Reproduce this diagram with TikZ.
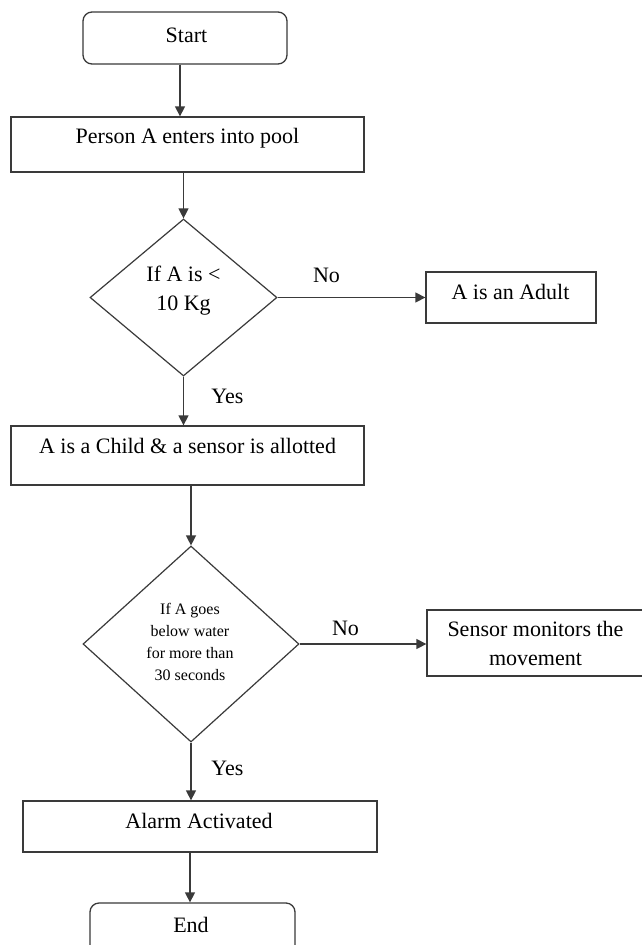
\documentclass[tikz,border=0pt]{standalone}
\usepackage{fontspec}
\setmainfont{Liberation Serif}
\usetikzlibrary{shapes.geometric,arrows.meta}
\definecolor{ln}{HTML}{3A3A3A}
\begin{document}
\begin{tikzpicture}[x=1pt,y=-1pt,
  box/.style={draw=ln,line width=1.3pt,inner sep=0pt},
  dia/.style={draw=ln,line width=1.2pt,shape=diamond,inner sep=0pt},
  txt/.style={inner sep=0pt,font=\fontsize{22}{29}\selectfont,text=black},
  small/.style={inner sep=0pt,font=\fontsize{16}{22}\selectfont,text=black},
  arr/.style={draw=ln,line width=1.3pt,-{Triangle[length=10pt,width=10pt]}},
]
\useasboundingbox (0,0) rectangle (642,945);
\clip (0,0) rectangle (642,945);
\fill[white] (0,0) rectangle (642,945);

% shapes
\node[box,rounded corners=9pt,minimum width=204pt,minimum height=52pt] (start) at (185,38) {};
\node[box,minimum width=353pt,minimum height=55pt] (person) at (187.5,144.5) {};
\node[dia,minimum width=187pt,minimum height=157pt] (d1) at (183.5,297.5) {};
\node[box,minimum width=170pt,minimum height=51pt] (adult) at (511,297.5) {};
\node[box,minimum width=353pt,minimum height=59pt] (child) at (187.5,455.5) {};
\node[dia,minimum width=216pt,minimum height=196pt] (d2) at (191,644) {};
\node[box,minimum width=217pt,minimum height=66pt] (sensor) at (535.5,643) {};
\node[box,minimum width=354pt,minimum height=51pt] (alarm) at (200,826.5) {};
\node[box,rounded corners=9pt,minimum width=205pt,minimum height=54pt] (end) at (192.5,930) {};

% texts
\node[txt,anchor=base] (starttxt) at (186.5,42) {Start};
\node[txt,anchor=base] (persontxt) at (187.5,143) {Person A enters into pool};
\node[txt,anchor=north,align=center] (d1txt) at (183.5,260.7) {\strut If A is <\\10 Kg};
\node[txt,anchor=base] (adulttxt) at (510.5,299) {A is an Adult};
\node[txt,anchor=base] (childtxt) at (187.5,453) {A is a Child \& a sensor is allotted};
\node[small,anchor=north,align=center] (d2txt) at (190,598.6) {\strut If A goes\\below water\\for more than\\30 seconds};
\node[txt,anchor=north,align=center] (sensortxt) at (535.5,615.7) {\strut Sensor monitors the\\movement};
\node[txt,anchor=base] (alarmtxt) at (199,828) {Alarm Activated};
\node[txt,anchor=base] (endtxt) at (191,932) {End};

% labels
\node[txt,anchor=base] (no1) at (326.5,282) {No};
\node[txt,anchor=base] (no2) at (345.5,635) {No};
\node[txt,anchor=base] (yes1) at (227.5,403) {Yes};
\node[txt,anchor=base] (yes2) at (227.5,775) {Yes};

% connectors
\draw[arr] ([xshift=-5pt]start.south) -- ([xshift=-5pt]start.south |- person.north);
\draw[arr] (d1.north |- person.south) -- (d1.north);
\draw[arr] (d1.east) -- (d1.east -| adult.west);
\draw[arr] (d1.south) -- (d1.south |- child.north);
\draw[arr] (d2.north |- child.south) -- (d2.north);
\draw[arr] (d2.east) -- (d2.east -| sensor.west);
\draw[arr] (d2.south) -- (d2.south |- alarm.north);
\draw[arr] ([xshift=-10pt]alarm.south) -- ([xshift=-10pt]alarm.south |- end.north);
\end{tikzpicture}
\end{document}
